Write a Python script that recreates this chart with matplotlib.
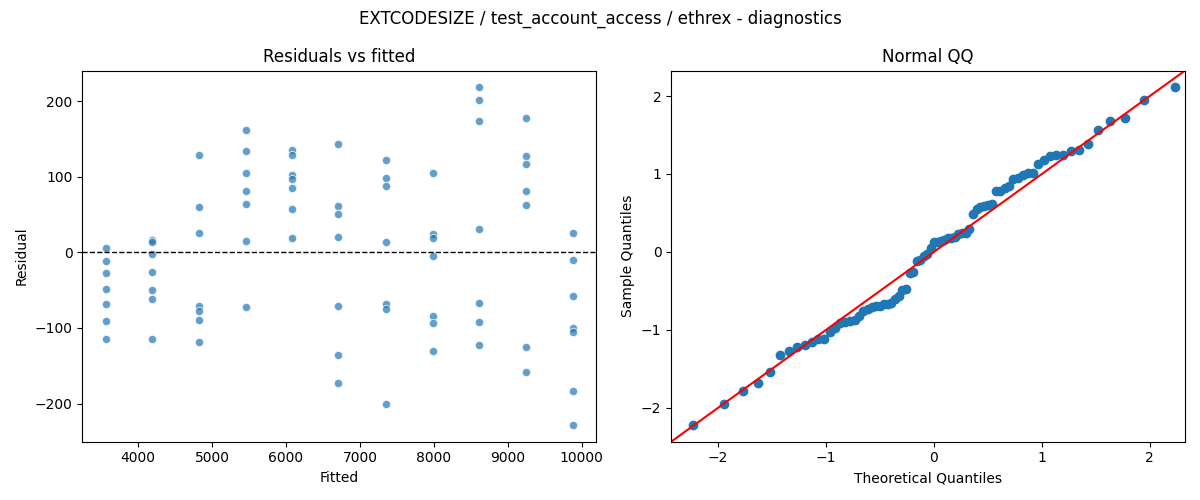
import numpy as np
import matplotlib.pyplot as plt
from statistics import NormalDist

# fitted value for each group (x positions of the residual columns)
fitted_levels = [3562, 4184, 4819, 5459, 6076, 6707, 7351, 7987, 8611, 9243, 9878]

# residuals, one list per fitted level
resid_3562 = [5.3, -11.5, -27.3, -48.5, -68.7, -90.7, -114.5]
resid_4184 = [16.3, 13.2, -2.6, -26.4, -49.8, -62.1, -114.5]
resid_4819 = [128.2, 59.5, 25.6, -70.9, -78.0, -89.4, -118.9]
resid_5459 = [161.7, 133.5, 104.4, 81.1, 63.9, 15.0, -72.2]
resid_6076 = [134.8, 128.2, 102.2, 96.5, 84.6, 57.3, 18.9]
resid_6707 = [143.2, 61.2, 50.2, 20.3, -70.9, -135.7, -172.7]
resid_7351 = [121.6, 97.8, 87.7, 13.7, -68.3, -74.9, -200.9]
resid_7987 = [104.4, 24.2, 18.5, -4.8, -84.6, -93.8, -130.4]
resid_8611 = [218.1, 200.9, 173.1, 30.4, -67.4, -92.5, -122.9]
resid_9243 = [177.1, 126.9, 116.3, 80.6, 62.1, -125.6, -158.6]
resid_9878 = [25.6, -10.6, -58.1, -100.4, -105.3, -183.3, -228.2]

groups = [resid_3562, resid_4184, resid_4819, resid_5459, resid_6076, resid_6707,
          resid_7351, resid_7987, resid_8611, resid_9243, resid_9878]

fitted = np.concatenate([[f] * len(g) for f, g in zip(fitted_levels, groups)])
resid = np.concatenate(groups)

# QQ: standardized residuals vs normal quantiles (plotting positions i/(n+1))
n = len(resid)
sample_q = np.sort((resid - resid.mean()) / resid.std())
theo_q = np.array([NormalDist().inv_cdf(i / (n + 1)) for i in range(1, n + 1)])

fig, (ax1, ax2) = plt.subplots(1, 2, figsize=(12, 5), dpi=100)

ax1.scatter(fitted, resid, s=36, color='C0', alpha=0.7, edgecolors='white', linewidths=0.75)
ax1.axhline(0, color='black', linestyle='--', linewidth=1)
ax1.set_xlabel('Fitted')
ax1.set_ylabel('Residual')
ax1.set_title('Residuals vs fitted')

ax2.plot(theo_q, sample_q, 'o', color='C0')
lims = ax2.get_ylim()
ax2.set_xlim(lims)
ax2.set_ylim(lims)
ax2.plot(lims, lims, color='red')
ax2.set_xlabel('Theoretical Quantiles')
ax2.set_ylabel('Sample Quantiles')
ax2.set_title('Normal QQ')

fig.suptitle('EXTCODESIZE / test_account_access / ethrex - diagnostics')
fig.tight_layout()
fig.savefig('out.png')
